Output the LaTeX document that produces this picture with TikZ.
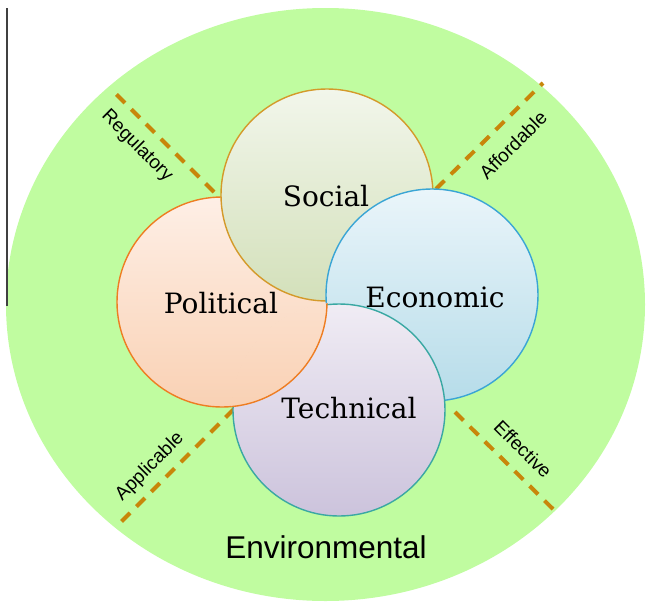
\documentclass[tikz,border=0pt]{standalone}
\usepackage{fontspec}
\newfontfamily\labserif{DejaVu Serif}
\newfontfamily\labsans{Liberation Sans}
\definecolor{envgreen}{HTML}{C0FCA0}
\definecolor{dashcol}{HTML}{C8860A}
\definecolor{socB}{HTML}{D49A2A}
\definecolor{polB}{HTML}{EE7D22}
\definecolor{ecoB}{HTML}{3AA5D5}
\definecolor{tecB}{HTML}{3AA8A3}
\definecolor{socT}{HTML}{F2F6EB}
\definecolor{socD}{HTML}{D3E0BA}
\definecolor{polT}{HTML}{FEEFE6}
\definecolor{polD}{HTML}{F9D1B4}
\definecolor{ecoT}{HTML}{EAF5FA}
\definecolor{ecoD}{HTML}{B6DCE9}
\definecolor{tecT}{HTML}{F0ECF4}
\definecolor{tecD}{HTML}{CCC3DC}
\begin{document}
\begin{tikzpicture}[x=1pt,y=-1pt,
  blob/.style={circle, inner sep=0pt, outer sep=0pt, line width=1.4pt},
  socstyle/.style={blob, draw=socB, top color=socT, bottom color=socD, minimum size=212pt},
  polstyle/.style={blob, draw=polB, top color=polT, bottom color=polD, minimum size=210pt},
  ecostyle/.style={blob, draw=ecoB, top color=ecoT, bottom color=ecoD, minimum size=212pt},
  tecstyle/.style={blob, draw=tecB, top color=tecT, bottom color=tecD, minimum size=212pt},
  dimline/.style={draw=dashcol, line width=4pt, dash pattern=on 12pt off 9pt},
  mainlab/.style={font=\labserif\fontsize{28}{31}\selectfont, anchor=base, inner sep=0pt},
  sidelab/.style={font=\labsans\fontsize{19}{21}\selectfont, inner sep=0pt}
]
\useasboundingbox (0,0) rectangle (648,603);
% environment
\fill[envgreen] (325.5,304.5) ellipse [x radius=319.5pt, y radius=296.5pt];
\draw[black!75, line width=1.2pt] (7,8) -- (7,306);
% dashed lines
\coordinate (r1) at (112,90);  \coordinate (r2) at (214,192);
\coordinate (a1) at (436,189); \coordinate (a2) at (543,83);
\coordinate (p1) at (234,409); \coordinate (p2) at (116,527);
\coordinate (e1) at (455,412); \coordinate (e2) at (559,515);
\draw[dimline] (r2) -- (r1);
\draw[dimline] (a1) -- (a2);
\draw[dimline] (p1) -- (p2);
\draw[dimline] (e1) -- (e2);
% circles
\node[polstyle] (P) at (222,302) {};
\node[socstyle] (S) at (327,195) {};
\node[ecostyle] (E) at (432,295) {};
\node[tecstyle] (T) at (339,410) {};
\begin{scope}
  \clip (T.center) circle [radius=107.5pt];
  \node[polstyle] (P2) at (P.center) {};
\end{scope}
% labels
\node[mainlab] (ls) at (326,206) {Social};
\node[mainlab] (lp) at (221,313) {Political};
\node[mainlab] (le) at (435,307) {Economic};
\node[mainlab] (lt) at (349,418) {Technical};
\node[font=\labsans\fontsize{31.5}{34}\selectfont, anchor=base, inner sep=0pt] (lenv) at (326,558) {Environmental};
\node[sidelab, rotate=-45] (lr) at (137,146) {Regulatory};
\node[sidelab, rotate=45] (la) at (513,145) {Affordable};
\node[sidelab, rotate=45] (lap) at (150,467) {Applicable};
\node[sidelab, rotate=-45] (lef) at (523,449) {Effective};
\end{tikzpicture}
\end{document}
